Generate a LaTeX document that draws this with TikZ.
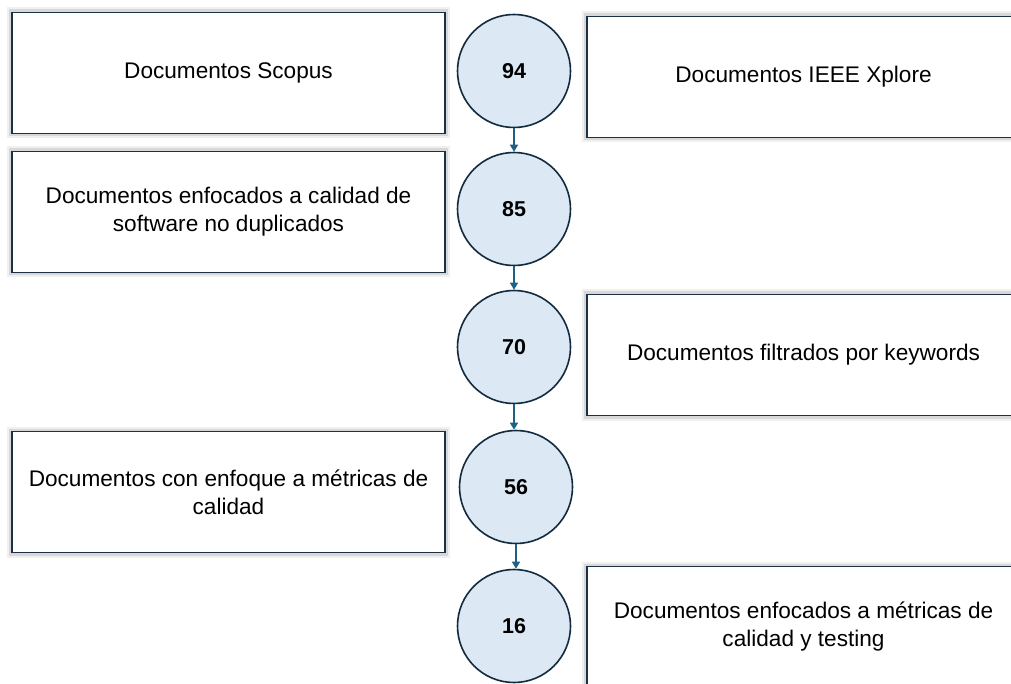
\documentclass[tikz,border=0pt]{standalone}
\usepackage{fontspec}
\setmainfont{Liberation Sans}
\usetikzlibrary{arrows.meta}
\usetikzlibrary{positioning}
\definecolor{mnavy}{HTML}{1B3045}
\definecolor{mring}{HTML}{132B3E}
\definecolor{mfill}{HTML}{DDE8F5}
\definecolor{marrow}{HTML}{1F6085}
\tikzset{docbox/.style = {draw = mnavy, line width = 1.8, fill = white,
                          minimum width = 433, minimum height = 121,
                          align = center, inner sep = 0,
                          font = \fontsize{22.6}{28}\selectfont,
                          preaction = {draw = black, opacity = 0.06, line width = 10},
                          preaction = {draw = black, opacity = 0.10, line width = 6}}}
\tikzset{countcirc/.style = {draw = mring, line width = 1.6, fill = mfill, circle,
                             minimum size = 113, inner sep = 0,
                             font = \fontsize{21.5}{25}\selectfont\bfseries}}
\tikzset{flow/.style = {draw = marrow, line width = 1.5,
                        -{Triangle[length=7, width=8]}}}

\begin{document}
\begin{tikzpicture}[x = 1pt, y = -1pt]
    \useasboundingbox (0, 0) rectangle (1011, 684);
    \clip (0, 0) rectangle (1011, 684);

    \node [docbox] (scopus) at (228.5, 73) {Documentos Scopus};
    \node [docbox] (nodup) at (228.5, 212) {Documentos enfocados a calidad de\\software no duplicados};
    \node [docbox] (metricas) at (228.5, 492) {Documentos con enfoque a métricas de\\calidad};

    \node [docbox] (ieee) at (803.5, 77) {Documentos IEEE Xplore};
    \node [docbox] (keywords) at (803.5, 355) {Documentos filtrados por keywords};
    \node [docbox] (testing) at (803.5, 627) {Documentos enfocados a métricas de\\calidad y testing};

    \node [countcirc] (n94) at (514, 71) {94};
    \node [countcirc] (n85) at (514, 209) {85};
    \node [countcirc] (n70) at (514, 347) {70};
    \node [countcirc] (n56) at (516, 487) {56};
    \node [countcirc] (n16) at (514, 626) {16};

    \draw [flow] (n94.south) -- (n94.south |- n85.north);
    \draw [flow] (n85.south) -- (n85.south |- n70.north);
    \draw [flow] (n70.south) -- (n70.south |- n56.north);
    \draw [flow] (n56.south) -- (n56.south |- n16.north);
\end{tikzpicture}
\end{document}
